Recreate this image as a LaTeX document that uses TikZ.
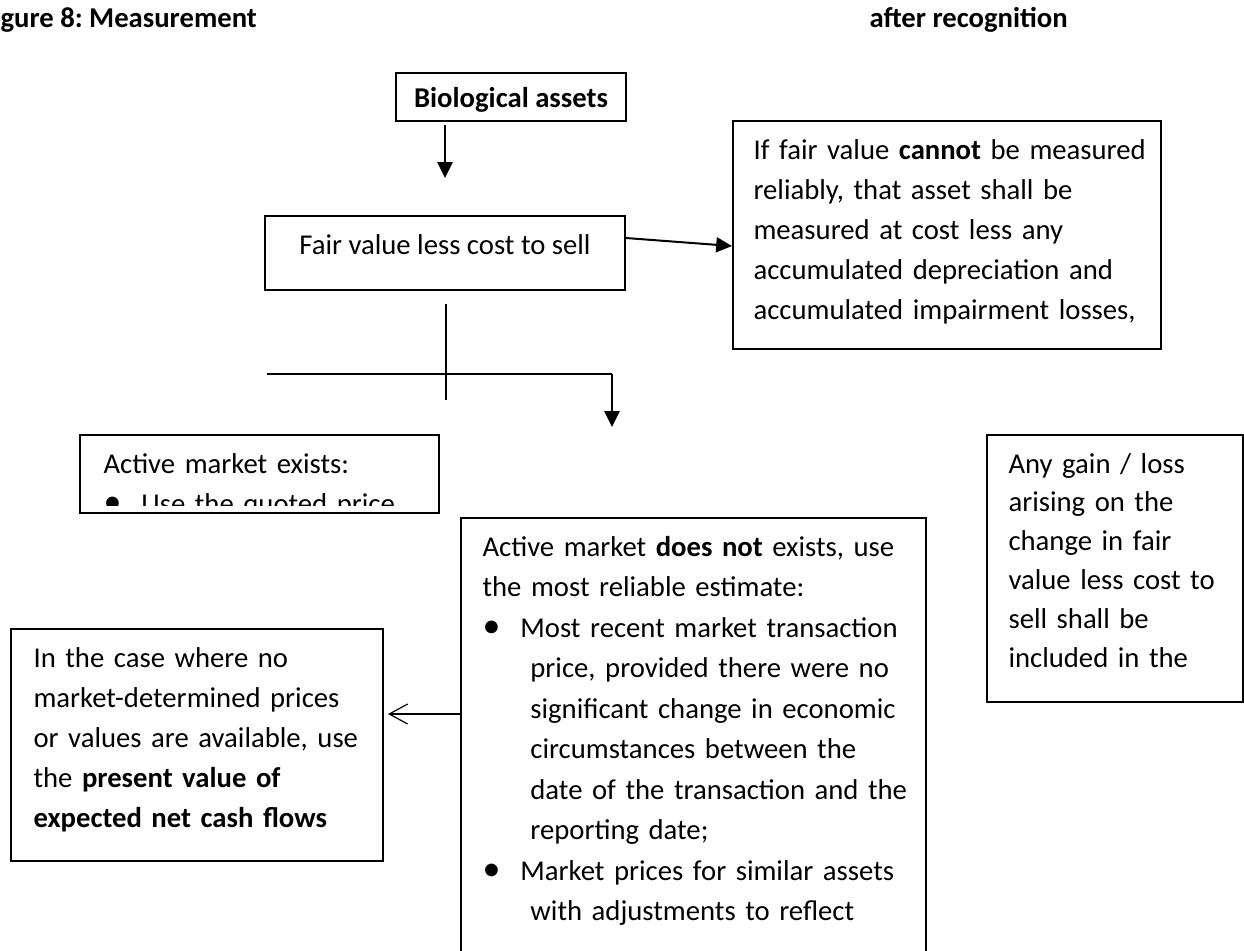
\documentclass[tikz,border=0pt]{standalone}
\usepackage{fontspec}
\usepackage{graphicx}
\setmainfont{Carlito}
\usetikzlibrary{arrows.meta}
\frenchspacing

\newcommand{\itembul}{\makebox[14.4pt][l]{\scalebox{1.25}{\textbullet}}}
\newcommand{\itemind}{\hspace*{18.2pt}}

\begin{document}
\begin{tikzpicture}[
		x=0.38pt, y=-0.38pt,
		every node/.style={inner sep=0pt, font=\fontsize{10.9pt}{15.2pt}\selectfont},
		box/.style={draw, line width=0.76pt, anchor=north west},
		txt/.style={anchor=base west, text width=200pt, align=left},
		arr/.style={-{Triangle[length=6pt,width=5.7pt]}, line width=0.76pt},
		barb/.style={-{Straight Barb[length=7pt,width=7.6pt]}, line width=0.45pt},
		tline/.style={line width=0.45pt}
		]
		\path[fill=white, use as bounding box] (0,0) rectangle (1244,950);
		
		% title
		\node[anchor=base west, font=\fontsize{10.9pt}{15.2pt}\selectfont\bfseries] (ttl) at (0,27) {gure 8: Measurement};
		\node[anchor=base west, font=\fontsize{10.9pt}{15.2pt}\selectfont\bfseries] (ttr) at (869,27) {after recognition};
		
		% top boxes
		\node[box, minimum width=87.4pt, text height=12.92pt, text depth=5.32pt] (bio) at (395,72) {\textbf{Biological assets}};
		\node[box, minimum width=136.8pt, text height=14.44pt, text depth=13.68pt] (fv) at (264,215) {Fair value less cost to sell};
		
		\node[box, minimum width=162.64pt, minimum height=86.64pt] (ifv) at (732,120) {};
		\node[txt] (ifv-t) at (753,159)
		{If fair value \textbf{cannot} be measured\\
			reliably, that asset shall be\\
			measured at cost less any\\
			accumulated depreciation and\\
			accumulated impairment losses,};
		
		% active market exists
		\node[box, minimum width=136.42pt, minimum height=29.64pt] (am) at (79,434) {};
		\begin{scope}
			\clip (am.north west) rectangle ([yshift=3.42pt]am.south east);
			\node[txt] (am-t) at (103,473)
			{Active market exists:\\
				\itembul Use the quoted price};
		\end{scope}
		
		% active market does not exist
		\node[box, minimum width=176.7pt, minimum height=183.54pt] (dn) at (460,517) {};
		\node[txt, font=\fontsize{10.9pt}{15.4pt}\selectfont] (dn-t) at (482,556)
		{Active market \textbf{does not} exists, use\\
			the most reliable estimate:\\
			\itembul Most recent market transaction\\
			\itemind price, provided there were no\\
			\itemind significant change in economic\\
			\itemind circumstances between the\\
			\itemind date of the transaction and the\\
			\itemind reporting date;\\
			\itembul Market prices for similar assets\\
			\itemind with adjustments to reflect};
		
		% gain or loss
		\node[box, minimum width=97.28pt, minimum height=101.46pt] (ag) at (986,434) {};
		\node[txt, font=\fontsize{10.9pt}{14.8pt}\selectfont] (ag-t) at (1008,473)
		{Any gain / loss\\
			arising on the\\
			change in fair\\
			value less cost to\\
			sell shall be\\
			included in the};
		
		% no market prices
		\node[box, minimum width=141.36pt, minimum height=88.16pt] (ncf) at (10,628) {};
		\node[txt] (ncf-t) at (33,667)
		{In the case where no\\
			market-determined prices\\
			or values are available, use\\
			the \textbf{present value of}\\
			\textbf{expected net cash flows}};
		
		% connectors
		\coordinate (a1s) at (445,125);
		\coordinate (a1e) at (445,178);
		\draw[arr] (a1s) -- (a1e);
		\draw[arr] ([yshift=5.7pt]fv.east) -- ([yshift=-4.18pt]ifv.west);
		
		\coordinate (vt) at (446,304);
		\coordinate (vb) at (446,400);
		\coordinate (hl) at (267,374);
		\coordinate (hr) at (612,374);
		\coordinate (a2e) at (612,427);
		\draw[tline] (vt) -- (vb);
		\draw[tline] (hl) -- (hr);
		\draw[arr] (hr) -- (a2e);
		
		\coordinate (ncf-in) at (388,714);
		\draw[barb] (dn.west |- ncf-in) -- (ncf-in);
		
		\end{tikzpicture}
\end{document}
